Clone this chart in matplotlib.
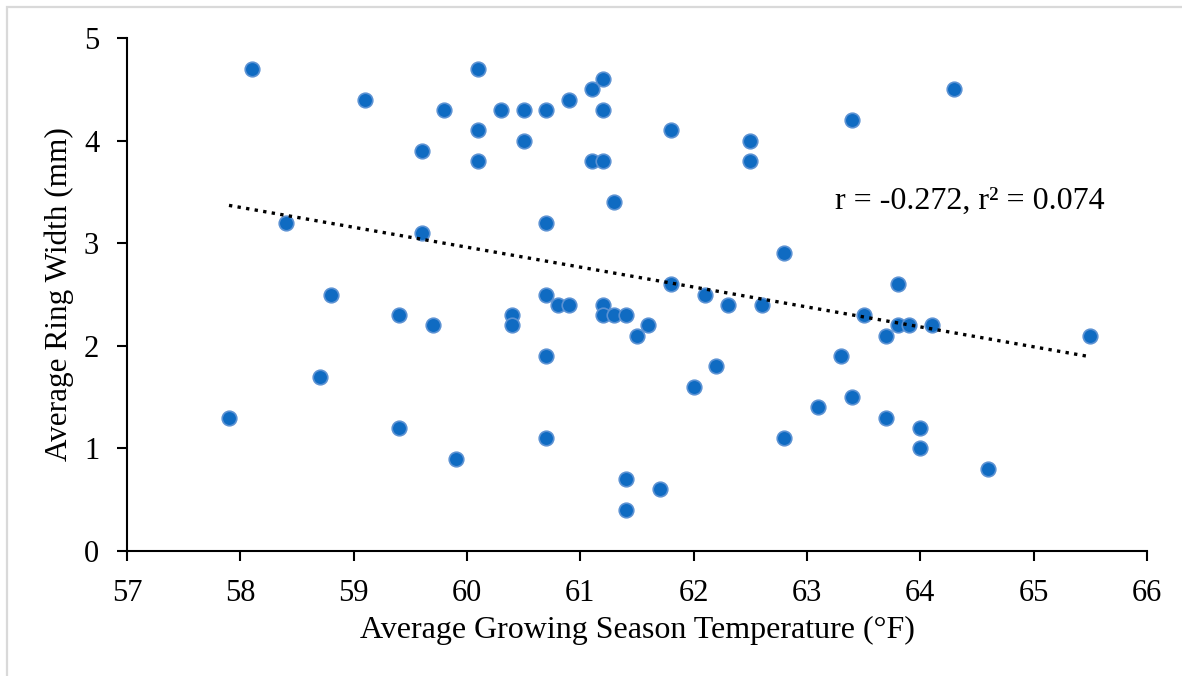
import numpy as np
import matplotlib.pyplot as plt
from matplotlib.patches import Rectangle

# growing season temperature (F) vs average ring width (mm)
temp_f = [57.9, 58.1, 58.4, 58.7, 58.8, 59.1, 59.4, 59.4, 59.6, 59.6,
          59.7, 59.8, 59.9, 60.1, 60.1, 60.1, 60.3, 60.4, 60.4, 60.5,
          60.5, 60.7, 60.7, 60.7, 60.7, 60.7, 60.8, 60.9, 60.9, 61.1,
          61.1, 61.2, 61.2, 61.2, 61.2, 61.2, 61.3, 61.3, 61.4, 61.4,
          61.4, 61.5, 61.6, 61.7, 61.8, 61.8, 62.0, 62.1, 62.2, 62.3,
          62.5, 62.5, 62.6, 62.8, 62.8, 63.1, 63.3, 63.4, 63.4, 63.5,
          63.7, 63.7, 63.8, 63.8, 63.9, 64.0, 64.0, 64.1, 64.3, 64.6,
          65.5]
ring_mm = [1.3, 4.7, 3.2, 1.7, 2.5, 4.4, 2.3, 1.2, 3.9, 3.1,
           2.2, 4.3, 0.9, 4.7, 4.1, 3.8, 4.3, 2.3, 2.2, 4.3,
           4.0, 4.3, 3.2, 2.5, 1.9, 1.1, 2.4, 4.4, 2.4, 4.5,
           3.8, 4.6, 4.3, 3.8, 2.4, 2.3, 3.4, 2.3, 2.3, 0.7,
           0.4, 2.1, 2.2, 0.6, 4.1, 2.6, 1.6, 2.5, 1.8, 2.4,
           4.0, 3.8, 2.4, 2.9, 1.1, 1.4, 1.9, 4.2, 1.5, 2.3,
           2.1, 1.3, 2.6, 2.2, 2.2, 1.2, 1.0, 2.2, 4.5, 0.8,
           2.1]
x_ticks = [57, 58, 59, 60, 61, 62, 63, 64, 65, 66]
y_ticks = [0, 1, 2, 3, 4, 5]
stats_label = "r = -0.272, r\u00b2 = 0.074"

plt.rcParams['font.family'] = ['Liberation Serif', 'DejaVu Serif']

fig = plt.figure(figsize=(11.82, 6.76), dpi=100)
ax = fig.add_axes([127/1182, 1 - 551/676, 1020/1182, 513/676])

# light grey chart-area border (only left/top visible in the crop)
fig.add_artist(Rectangle((7/1182, -0.05), 1.2, 1 - 7/676 + 0.05,
                         transform=fig.transFigure, fill=False,
                         edgecolor='#D9D9D9', linewidth=1.6))

ax.scatter(temp_f, ring_mm, s=110, facecolor='#0F6BC2',
           edgecolor='#5C92D3', linewidth=1.2, zorder=3)

# linear trendline across the data range
t = np.array(temp_f)
slope, intercept = np.polyfit(t, ring_mm, 1)
xl = np.array([t.min(), t.max()])
ax.plot(xl, slope * xl + intercept, color='black', linewidth=2.4,
        dashes=(1, 1.6), zorder=4)

ax.text(63.25, 3.41, stats_label, fontsize=23, va='center', ha='left')

ax.set_xlim(57, 66)
ax.set_ylim(0, 5)
ax.set_xticks(x_ticks)
ax.set_yticks(y_ticks)
ax.tick_params(direction='out', length=7, width=1.5, labelsize=22,
               color='black')
ax.tick_params(axis='x', pad=13)
ax.tick_params(axis='y', pad=13)
for side in ['top', 'right']:
    ax.spines[side].set_visible(False)
for side in ['left', 'bottom']:
    ax.spines[side].set_linewidth(1.5)

ax.set_xlabel("Average Growing Season Temperature (\u00b0F)", fontsize=23,
              labelpad=6)
ax.set_ylabel("Average Ring Width (mm)", fontsize=22.5, labelpad=7)

fig.savefig("out.png", dpi=100)
